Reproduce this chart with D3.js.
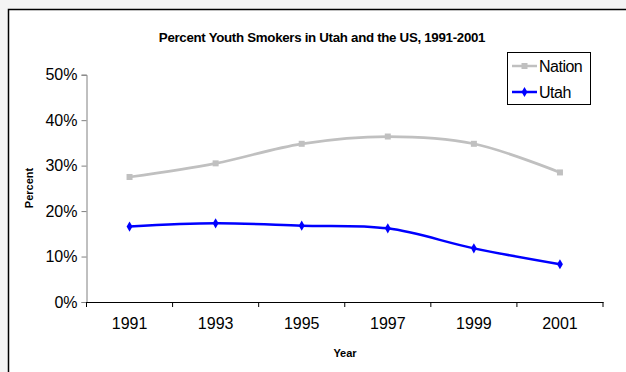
<!DOCTYPE html>
<html>
<head>
<meta charset="utf-8">
<title>Percent Youth Smokers in Utah and the US</title>
<style>
body { margin: 0; background: #f4f4f4; }
svg { display: block; font-family: "Liberation Sans", Arial, sans-serif; }
</style>
</head>
<body>
<svg id="chart" width="626" height="372"></svg>
<script src="https://d3js.org/d3.v7.min.js"></script>
<script>
// data
var years = ["1991", "1993", "1995", "1997", "1999", "2001"]
var nation = [27.5, 30.5, 34.8, 36.4, 34.8, 28.5]
var utah = [16.6, 17.3, 16.8, 16.2, 11.8, 8.3]
var yTicks = [0, 10, 20, 30, 40, 50]

var svg = d3.select('#chart')

// chart area with black frame (runs off the right/bottom edges)
svg.append('rect')
  .attr('x', 8.5).attr('y', 9.5)
  .attr('width', 640).attr('height', 400)
  .attr('fill', '#fff')
  .attr('stroke', '#000').attr('stroke-width', 1.5)

// plot box (note: "top" is reserved on window, so use other names)
var pLeft = 86.5, pRight = 603, pTop = 74.7, pBottom = 302

var x = d3.scaleBand().domain(years).range([pLeft, pRight])
var y = d3.scaleLinear().domain([0, 50]).range([pBottom, pTop])

// title
svg.append('text')
  .attr('x', 322).attr('y', 42)
  .attr('text-anchor', 'middle')
  .attr('font-size', 13.3).attr('font-weight', 'bold')
  .attr('letter-spacing', -0.3)
  .text('Percent Youth Smokers in Utah and the US, 1991-2001')

// y axis
var yAxis = svg.append('g')
  .attr('transform', 'translate(' + pLeft + ',0)')
  .call(d3.axisLeft(y).tickValues(yTicks).tickSize(5).tickPadding(4)
    .tickFormat(function(d) { return d + '%' }))
yAxis.select('.domain').attr('stroke', '#808080')
yAxis.selectAll('.tick line').attr('stroke', '#808080')
yAxis.selectAll('text').attr('font-size', 16).attr('fill', '#000')
  .attr('font-family', '"Liberation Sans", Arial, sans-serif')

// x axis, ticks between categories
var xAxis = svg.append('g')
  .attr('transform', 'translate(0,' + pBottom + ')')
  .call(d3.axisBottom(x).tickSize(0).tickPadding(16))
xAxis.select('.domain').attr('stroke', '#000')
xAxis.selectAll('text').attr('font-size', 16).attr('fill', '#000')
  .attr('font-family', '"Liberation Sans", Arial, sans-serif')
var edges = years.map(function(d) { return x(d) }).concat([pRight])
xAxis.selectAll('.sep').data(edges).enter()
  .append('line')
  .attr('x1', function(d) { return d }).attr('x2', function(d) { return d })
  .attr('y1', 0).attr('y2', 5)
  .attr('stroke', '#000')

// axis titles
svg.append('text')
  .attr('x', 345).attr('y', 357)
  .attr('text-anchor', 'middle')
  .attr('font-size', 11).attr('font-weight', 'bold')
  .text('Year')
svg.append('text')
  .attr('transform', 'translate(33,188) rotate(-90)')
  .attr('text-anchor', 'middle')
  .attr('font-size', 11).attr('font-weight', 'bold')
  .text('Percent')

function cx(d, i) { return x(years[i]) + x.bandwidth() / 2 }

var line = d3.line()
  .x(function(d, i) { return cx(d, i) })
  .y(function(d) { return y(d) })
  .curve(d3.curveCatmullRom.alpha(0.5))

// Nation
svg.append('path').datum(nation)
  .attr('d', line)
  .attr('fill', 'none').attr('stroke', '#c0c0c0').attr('stroke-width', 2.7)
svg.selectAll('.nat').data(nation).enter()
  .append('rect')
  .attr('x', function(d, i) { return cx(d, i) - 3 })
  .attr('y', function(d) { return y(d) - 3 })
  .attr('width', 6).attr('height', 6)
  .attr('fill', '#c0c0c0')

// Utah
svg.append('path').datum(utah)
  .attr('d', line)
  .attr('fill', 'none').attr('stroke', '#0000ff').attr('stroke-width', 2.5)
var diamond = d3.symbol().type(d3.symbolDiamond).size(30)
svg.selectAll('.ut').data(utah).enter()
  .append('path')
  .attr('d', diamond)
  .attr('transform', function(d, i) { return 'translate(' + cx(d, i) + ',' + y(d) + ')' })
  .attr('fill', '#0000ff')

// legend
var lg = svg.append('g')
lg.append('rect')
  .attr('x', 507.5).attr('y', 52.5).attr('width', 83).attr('height', 52)
  .attr('fill', '#fff').attr('stroke', '#000')
var items = [
  {name: 'Nation', color: '#c0c0c0', shape: 'square', y: 66},
  {name: 'Utah', color: '#0000ff', shape: 'diamond', y: 92}
]
items.forEach(function(it) {
  lg.append('line')
    .attr('x1', 512).attr('x2', 537).attr('y1', it.y).attr('y2', it.y)
    .attr('stroke', it.color).attr('stroke-width', 2.5)
  if (it.shape === 'square') {
    lg.append('rect').attr('x', 521.5).attr('y', it.y - 3)
      .attr('width', 6).attr('height', 6).attr('fill', it.color)
  } else {
    lg.append('path').attr('d', diamond)
      .attr('transform', 'translate(524.5,' + it.y + ')').attr('fill', it.color)
  }
  lg.append('text')
    .attr('x', 539).attr('y', it.y + 6)
    .attr('font-size', 16).attr('letter-spacing', -0.5)
    .text(it.name)
})
</script>
</body>
</html>
